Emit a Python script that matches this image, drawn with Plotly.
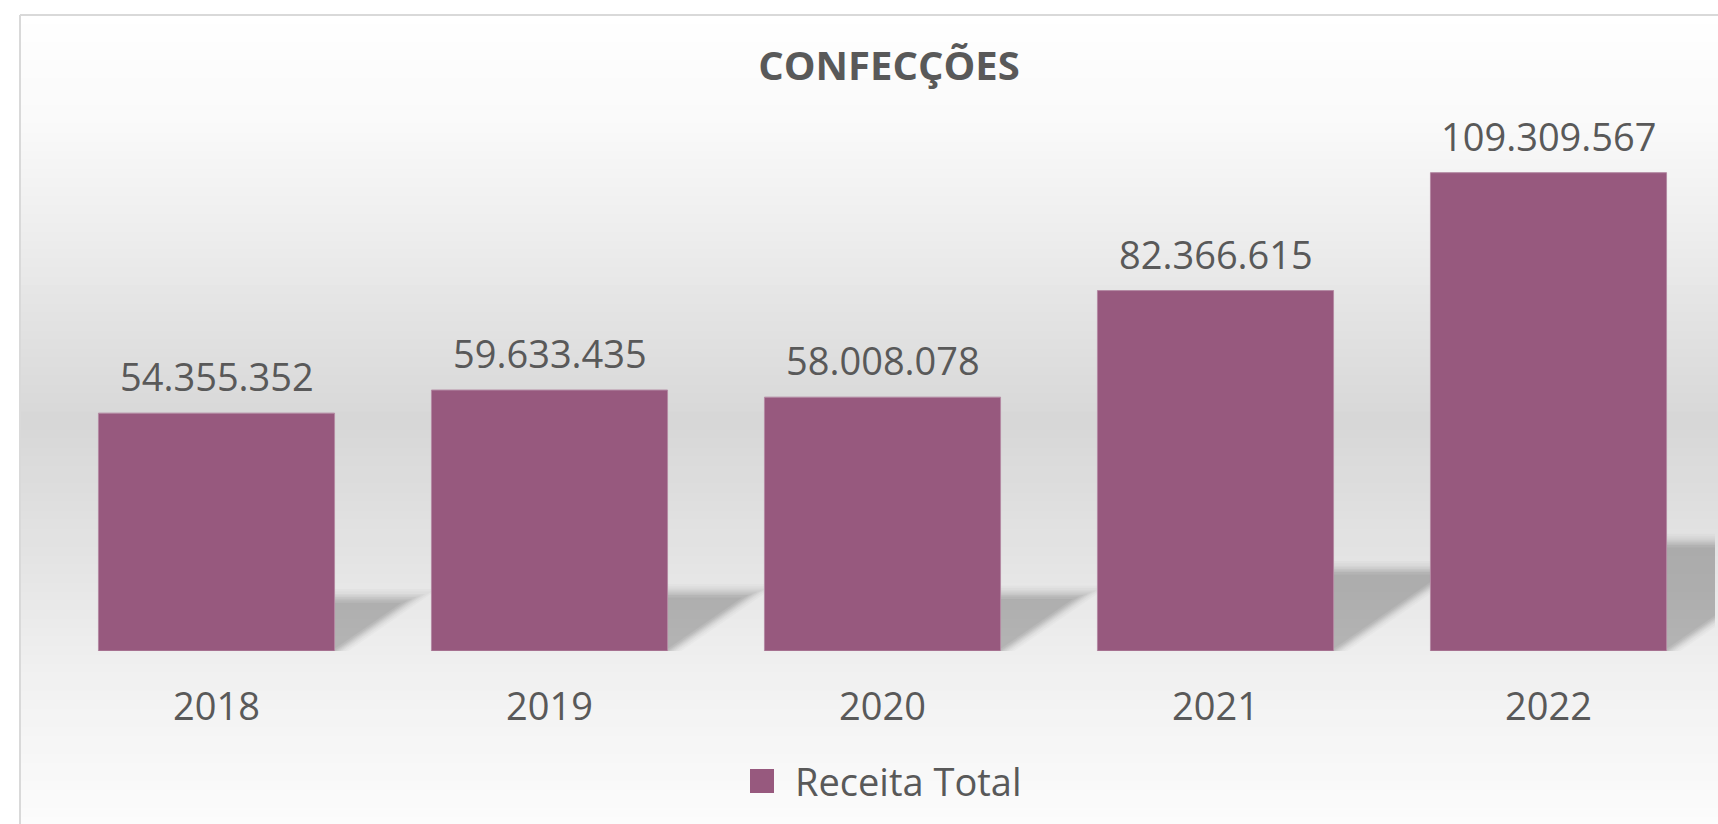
import plotly.graph_objects as go

# ---- data ----
years = ["2018", "2019", "2020", "2021", "2022"]
receita = [54355352, 59633435, 58008078, 82366615, 109309567]
series_name = "Receita Total"
title_text = "CONFECÇÕES"

W, H = 1718, 824
ML, MR, MT, MB = 50, 3, 104, 173
YMAX = 125_000_000
BAR_W = 0.709
BAR_COLOR = "#97597E"
TEXT_COLOR = "#595959"
FONT = "Open Sans"

pw = W - ML - MR
ph = H - MT - MB


def px_to_paper_x(px):
    return (px - ML) / pw


def px_to_paper_y(py):
    return (H - MB - py) / ph


def fmt(v):
    return f"{v:,}".replace(",", ".")


xs = list(range(len(years)))

fig = go.Figure()
fig.add_trace(go.Bar(
    x=xs, y=receita, width=BAR_W, name=series_name,
    marker=dict(color=BAR_COLOR, line=dict(color="#b48aa3", width=1)),
    showlegend=False, hoverinfo="skip",
))

shapes = []

# background gradient (Excel-like vertical gradient)
stops = [(15, 255), (130, 249), (260, 234), (420, 215), (560, 228), (680, 241), (824, 252)]


def grad(py):
    for (a, ca), (b, cb) in zip(stops[:-1], stops[1:]):
        if a <= py <= b:
            t = (py - a) / (b - a)
            return ca + (cb - ca) * t
    return stops[-1][1]


n = 90
top, bot = 15, H + 2
step = (bot - top) / n
for k in range(n):
    y0 = top + k * step
    y1 = y0 + step + 0.6
    c = int(round(grad(y0 + step / 2)))
    shapes.append(dict(type="rect", xref="paper", yref="paper",
                       x0=px_to_paper_x(20), x1=px_to_paper_x(W + 5),
                       y0=px_to_paper_y(y1), y1=px_to_paper_y(y0),
                       fillcolor=f"rgb({c},{c},{c})", line=dict(width=0), layer="below"))

# perspective shadows behind bars (derived from bar values), layered to look blurred
px_per_val = ph / YMAX
k_h = 0.23
x_per_px = len(years) / pw
blur_layers = [(14, 0.018), (11, 0.022), (8, 0.026), (6, 0.03), (4, 0.034), (2, 0.038), (0, 0.045), (-3, 0.04)]
for i, v in enumerate(receita):
    dy_val = k_h * v
    dy_px = dy_val * px_per_val
    for g, alpha in blur_layers:
        top_px = dy_px + g * 0.8 - 4
        dx = 1.45 * top_px * x_per_px
        xl = i - BAR_W / 2
        xr = i + BAR_W / 2 + g * x_per_px
        ytop = top_px / px_per_val
        path = (f"M {xl},0 L {xr},0 L {xr + dx},{ytop} "
                f"L {xl + dx},{ytop} Z")
        shapes.append(dict(type="path", xref="x", yref="y", path=path,
                           fillcolor=f"rgba(0,0,0,{alpha})", line=dict(width=0), layer="below"))

# chart border
shapes.append(dict(type="line", xref="paper", yref="paper",
                   x0=px_to_paper_x(20), x1=px_to_paper_x(20),
                   y0=px_to_paper_y(15), y1=px_to_paper_y(H + 5),
                   line=dict(color="#d9d9d9", width=2), layer="below"))
shapes.append(dict(type="line", xref="paper", yref="paper",
                   x0=px_to_paper_x(20), x1=px_to_paper_x(W + 5),
                   y0=px_to_paper_y(15), y1=px_to_paper_y(15),
                   line=dict(color="#d9d9d9", width=2), layer="below"))

# legend marker square
lx0, lx1 = 750, 774
ly = 781
shapes.append(dict(type="rect", xref="paper", yref="paper",
                   x0=px_to_paper_x(lx0), x1=px_to_paper_x(lx1),
                   y0=px_to_paper_y(ly + 12), y1=px_to_paper_y(ly - 12),
                   fillcolor=BAR_COLOR, line=dict(width=0)))

annotations = []
for i, v in enumerate(receita):
    annotations.append(dict(x=i, y=v, xref="x", yref="y", text=fmt(v),
                            showarrow=False, yanchor="middle", yshift=37,
                            font=dict(family=FONT, size=38, color=TEXT_COLOR)))

annotations.append(dict(x=px_to_paper_x(793), y=px_to_paper_y(ly), xref="paper", yref="paper",
                        text=series_name, showarrow=False, xanchor="left", yanchor="middle",
                        font=dict(family=FONT, size=38, color=TEXT_COLOR)))

fig.update_layout(
    width=W, height=H,
    margin=dict(l=ML, r=MR, t=MT, b=MB, pad=0),
    paper_bgcolor="white", plot_bgcolor="rgba(0,0,0,0)",
    title=dict(text=f"<b>{title_text}</b>", x=px_to_paper_x(889), xref="paper",
               y=1 - 66 / H, yref="container", xanchor="center", yanchor="middle",
               font=dict(family=FONT, size=40, color=TEXT_COLOR)),
    xaxis=dict(range=[-0.5, len(years) - 0.5], tickvals=xs, ticktext=years,
               showgrid=False, zeroline=False, showline=False, ticks="",
               tickfont=dict(family=FONT, size=38, color=TEXT_COLOR),
               ticklabelstandoff=30, fixedrange=True),
    yaxis=dict(range=[0, YMAX], visible=False, showgrid=False, zeroline=False, fixedrange=True),
    shapes=shapes, annotations=annotations,
    showlegend=False,
)

fig.write_html("out.html", config={"displayModeBar": False},
               post_script="document.body.style.margin='0';document.body.style.overflow='hidden';")
